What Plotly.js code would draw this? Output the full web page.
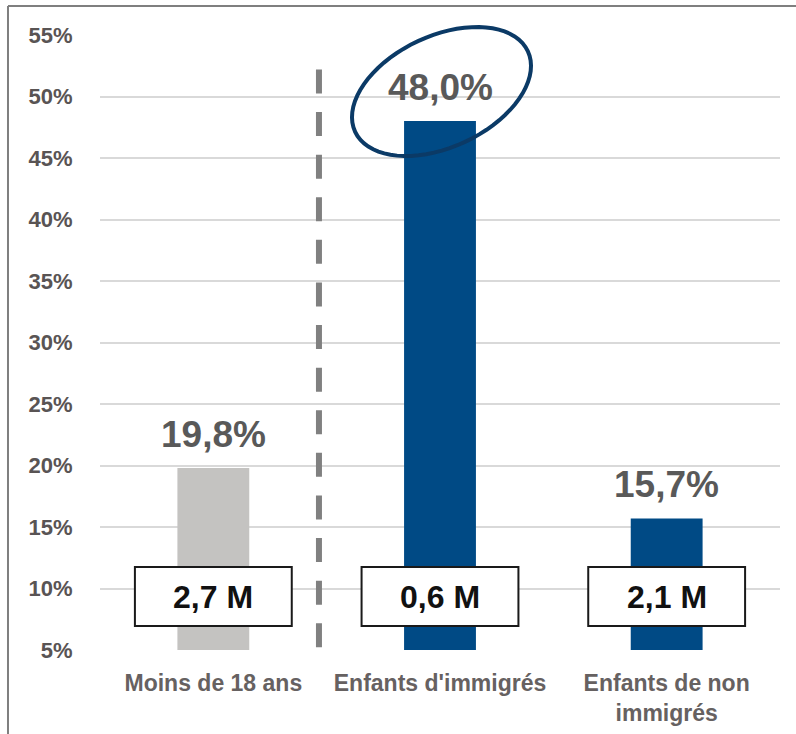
<!DOCTYPE html>
<html>
<head>
<meta charset="utf-8">
<script src="https://cdn.plot.ly/plotly-3.0.1.min.js"></script>
<style>html,body{margin:0;padding:0;background:#fff;}#chart{width:796px;height:734px;}</style>
</head>
<body>
<div id="chart"></div>
<script>
// ---- data ----
const categories = ["Moins de 18 ans", "Enfants d'immigrés", "Enfants de non<br>immigrés"];
const shares = [19.8, 48.0, 15.7];
const shareLabels = ["19,8%", "48,0%", "15,7%"];
const counts = ["2,7 M", "0,6 M", "2,1 M"];
const barColors = ["#c4c3c1", "#004a85", "#004a85"];
const yTicks = [5, 10, 15, 20, 25, 30, 35, 40, 45, 50, 55];
const yTickLabels = ["5%", "10%", "15%", "20%", "25%", "30%", "35%", "40%", "45%", "50%", "55%"];

const FONT = "Liberation Sans, Arial, sans-serif";
const xs = categories.map((c, i) => i);

const trace = {
  type: "bar",
  x: xs,
  y: shares.map(v => v - 5),
  base: 5,
  marker: {color: barColors, line: {width: 0}},
  width: 0.317,
  hoverinfo: "skip"
};

const shapes = [];
const annotations = [];

// white boxes with counts
counts.forEach((c, i) => {
  shapes.push({type: "rect", xref: "x", yref: "y", x0: i - 0.346, x1: i + 0.346, y0: 6.95, y1: 11.75,
    fillcolor: "#ffffff", line: {color: "#1a1a1a", width: 2}, layer: "above"});
  annotations.push({xref: "x", yref: "y", x: i, y: 9.35, text: "<b>" + c + "</b>", showarrow: false,
    font: {family: FONT, size: 32, color: "#111111"}, yanchor: "middle"});
});

// value labels
shares.forEach((v, i) => {
  annotations.push({xref: "x", yref: "y", x: i, y: v, text: "<b>" + shareLabels[i] + "</b>", showarrow: false,
    yanchor: "bottom", yshift: 11, font: {family: FONT, size: 37, color: "#595959"}});
});

// dashed separator
shapes.push({type: "line", xref: "x", yref: "y", x0: 0.466, x1: 0.466, y0: 52.2, y1: 5.2,
  line: {color: "#808080", width: 6, dash: "24px,18.6px"}, layer: "above"});

// rotated ellipse around 48,0%
(function () {
  const a = 95.3, b = 55.6, th = 25 * Math.PI / 180;
  let p = "";
  const N = 72;
  for (let k = 0; k <= N; k++) {
    const t = 2 * Math.PI * k / N;
    const px = a * Math.cos(t) * Math.cos(th) - b * Math.sin(t) * Math.sin(th);
    const py = a * Math.cos(t) * Math.sin(th) + b * Math.sin(t) * Math.cos(th);
    p += (k === 0 ? "M" : "L") + px.toFixed(2) + "," + py.toFixed(2);
  }
  p += "Z";
  shapes.push({type: "path", xref: "paper", yref: "paper", xsizemode: "pixel", ysizemode: "pixel",
    xanchor: 0.5022, yanchor: 0.9081, path: p, line: {color: "#0b3a66", width: 4}, layer: "above"});
})();

// outer frame (top and left)
shapes.push({type: "line", xref: "paper", yref: "paper", x0: -0.1353, x1: 1.03, y0: 1.0472, y1: 1.0472,
  line: {color: "#7f7f7f", width: 2}});
shapes.push({type: "line", xref: "paper", yref: "paper", x0: -0.1353, x1: -0.1353, y0: 1.0472, y1: -0.15,
  line: {color: "#7f7f7f", width: 2}});

const layout = {
  width: 796, height: 734,
  margin: {l: 100, r: 16, t: 35, b: 84},
  paper_bgcolor: "#ffffff", plot_bgcolor: "#ffffff",
  showlegend: false,
  xaxis: {
    range: [-0.5, 2.5], tickmode: "array", tickvals: xs, ticktext: categories,
    showgrid: false, zeroline: false, showline: false,
    ticks: "outside", ticklen: 12, tickcolor: "rgba(0,0,0,0)",
    tickfont: {family: FONT, size: 23, color: "#666161", weight: "bold"}
  },
  yaxis: {
    range: [5, 55], tickmode: "array", tickvals: yTicks, ticktext: yTickLabels,
    showgrid: true, gridcolor: "#d9d9d9", gridwidth: 2, zeroline: false, showline: false,
    ticks: "outside", ticklen: 22, tickcolor: "rgba(0,0,0,0)",
    tickfont: {family: FONT, size: 22, color: "#595454", weight: "bold"}
  },
  shapes: shapes,
  annotations: annotations
};

Plotly.newPlot("chart", [trace], layout, {displayModeBar: false, staticPlot: true});
</script>
</body>
</html>
